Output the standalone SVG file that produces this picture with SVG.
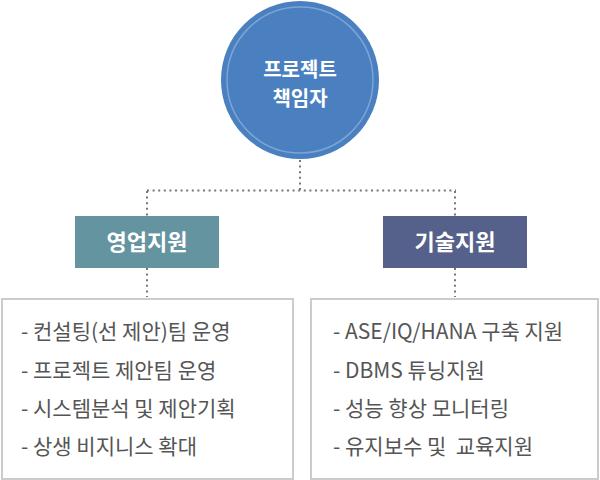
<svg xmlns="http://www.w3.org/2000/svg" width="600" height="480" viewBox="0 0 600 480">
<style>
.dot{fill:none;stroke:#777;stroke-width:2;stroke-dasharray:2 3.6}
.hd{font-family:"Noto Sans CJK KR","Noto Sans",sans-serif;font-weight:bold;fill:#fff;text-anchor:middle}
.lst{fill:#fff;stroke:#ccc;stroke-width:2}
.it{font-family:"Noto Sans CJK KR","Noto Sans",sans-serif;font-size:21px;fill:#555;white-space:pre}
</style>
<rect width="600" height="480" fill="#fff"/>
<g id="connectors">
<path class="dot" d="M300,160 V190.5"/>
<path class="dot" d="M147,190.5 H456"/>
<path class="dot" d="M147,191 V216"/>
<path class="dot" d="M455,191 V216"/>
<path class="dot" d="M147,268 V297"/>
<path class="dot" d="M455,268 V297"/>
</g>
<g id="pm">
<circle cx="300" cy="80" r="79" fill="#4a80c0"/>
<circle cx="300" cy="80" r="73" fill="none" stroke="#7da4d4" stroke-width="1.5"/>
<text class="hd" font-size="20"><tspan x="300" y="76.5">프로젝트</tspan><tspan x="300" y="105.5">책임자</tspan></text>
</g>
<g id="sales">
<rect x="75" y="216" width="144" height="52" fill="#6594a1"/>
<text class="hd" x="147" y="250" font-size="22">영업지원</text>
</g>
<g id="tech">
<rect x="383" y="216" width="144" height="52" fill="#55618a"/>
<text class="hd" x="455" y="250" font-size="22">기술지원</text>
</g>
<g id="sales-list">
<rect class="lst" x="2" y="299" width="291" height="180"/>
<text class="it" x="21" y="339">- 컨설팅(선 제안)팀 운영</text>
<text class="it" x="21" y="377.5">- 프로젝트 제안팀 운영</text>
<text class="it" x="21" y="416">- 시스템분석 및 제안기획</text>
<text class="it" x="21" y="454">- 상생 비지니스 확대</text>
</g>
<g id="tech-list">
<rect class="lst" x="311" y="299" width="287" height="180"/>
<text class="it" x="333" y="339">- ASE/IQ/HANA 구축 지원</text>
<text class="it" x="333" y="377.5">- DBMS 튜닝지원</text>
<text class="it" x="333" y="416">- 성능 향상 모니터링</text>
<text class="it" x="333" y="454" xml:space="preserve">- 유지보수 및  교육지원</text>
</g>
</svg>
